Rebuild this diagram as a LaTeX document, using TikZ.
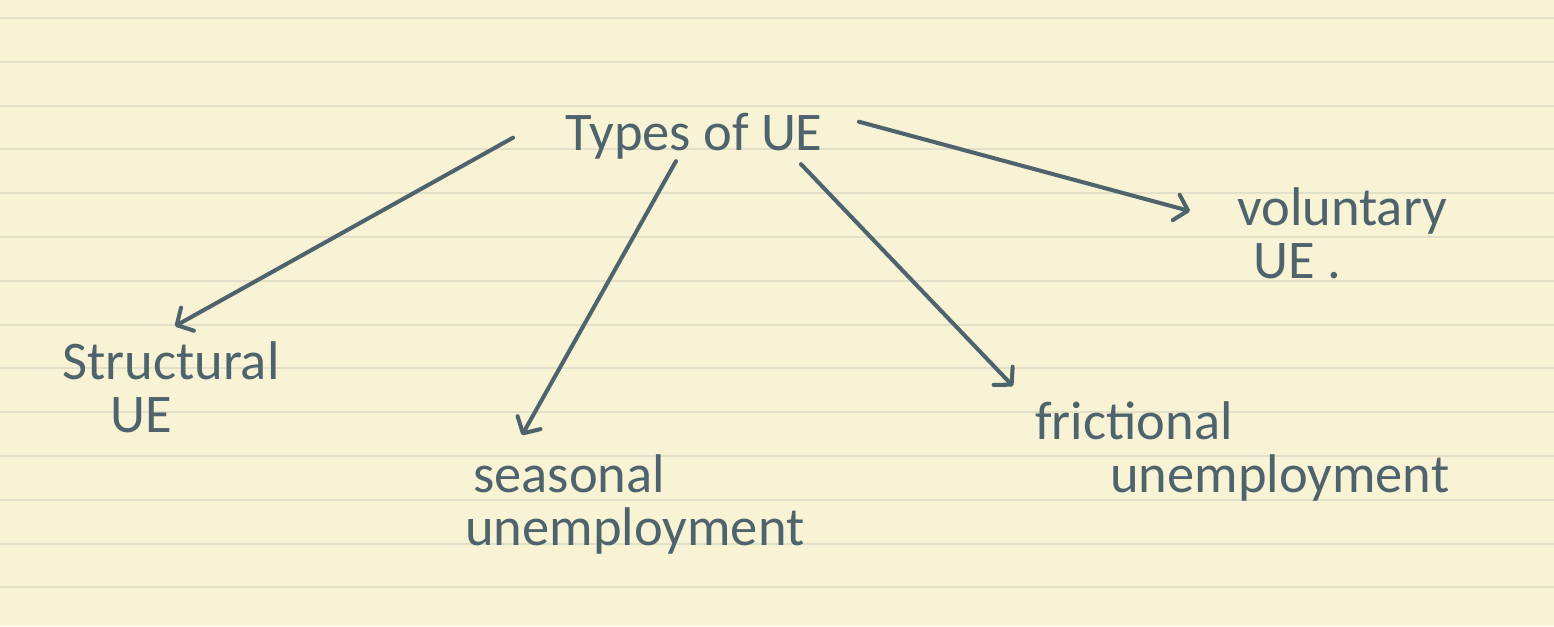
\documentclass[tikz,border=0pt]{standalone}
\usepackage{fontspec}
\setmainfont{Carlito}
\usetikzlibrary{arrows.meta,calc}

\definecolor{paper}{HTML}{F8F3D5}
\definecolor{ruling}{HTML}{E3E0CA}
\definecolor{inkgray}{HTML}{4F636D}

\begin{document}
\begin{tikzpicture}[x=0.02cm, y=-0.02cm,
    ink/.style={text=inkgray, font=\fontsize{31}{30}\selectfont, inner sep=0pt, align=left},
    arr/.style={draw=inkgray, line width=2.3pt, line cap=round,
        -{Straight Barb[length=7pt, width=15pt, round]}}]
    % Paper and ruled lines
    \fill[paper] (0,0) rectangle (1554,626);
    \useasboundingbox (0,0) rectangle (1554,626);
    \foreach \i in {0,...,13}
        \draw[ruling, line width=1.2pt] (0,18+43.8*\i) -- (1554,18+43.8*\i);

    % Labels (base = baseline of the last line)
    \node[ink, anchor=base west] (types) at (565,150) {Types of UE};
    \node[ink, anchor=base west] (struct) at (62,432) {Structural\\\hspace*{0.96cm}UE};
    \node[ink, anchor=base west] (seas) at (465,545) {\hspace*{0.16cm}seasonal\\unemployment};
    \node[ink, anchor=base west] (fric) at (1035,492) {frictional\\\hspace*{1.5cm}unemployment};
    \node[ink, anchor=base west] (vol) at (1237,278) {voluntary\\\hspace*{0.32cm}UE .};

    % Arrows
    \draw[arr] ($(types.west)+(-52,2)$) -- ($(struct.north)+(4,-15)$);
    \draw[arr] ($(types.south)+(-18,2)$) -- ($(seas.north west)+(57,-19)$);
    \draw[arr] ($(types.south east)+(-22,5)$) -- ($(fric.north west)+(-22,-15)$);
    \draw[arr] ($(types.east)+(36,-14)$) -- ($(vol.north west)+(-47,24)$);
\end{tikzpicture}
\end{document}
